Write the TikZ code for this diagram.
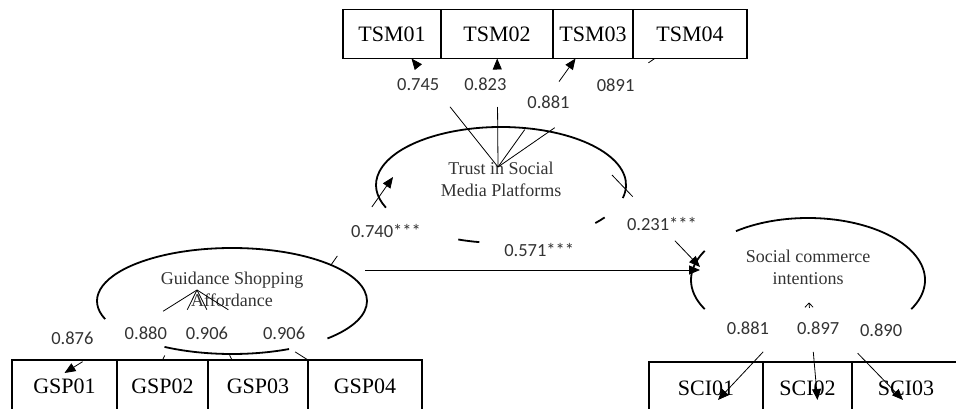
\documentclass[tikz,border=0pt]{standalone}
\usepackage{fontspec}
\setmainfont{Liberation Serif}
\newfontfamily\coeffont{Carlito}
\usetikzlibrary{arrows.meta, positioning, shapes.geometric}

\begin{document}
\begin{tikzpicture}[
  x=1pt, y=-1pt,
  ind/.style={draw, line width=1.6pt, minimum height=50pt, inner sep=0pt, outer sep=0pt, font=\fontsize{22}{26}\selectfont},
  latent/.style={ellipse, inner sep=0pt, outer sep=0pt},
  lvline/.style={line width=1.8pt},
  lvtext/.style={align=center, text=black!80, font=\fontsize{18}{22}\selectfont},
  coef/.style={text=black!80, inner sep=1pt, font=\fontsize{18.5}{22}\selectfont\coeffont},
  load/.style={line width=0.8pt},
  arr/.style={-{Triangle[length=11pt, width=9pt]}}
]
  \clip (0,0) rectangle (956,409);

  % indicators
  \node[ind, minimum width=98pt, minimum height=49pt] (tsm1) at (392,34) {TSM01};
  \node[ind, minimum width=112pt, minimum height=49pt, right=0pt of tsm1] (tsm2) {TSM02};
  \node[ind, minimum width=80pt, minimum height=49pt, right=0pt of tsm2] (tsm3) {TSM03};
  \node[ind, minimum width=114pt, minimum height=49pt, right=0pt of tsm3] (tsm4) {TSM04};

  \node[ind, minimum width=105pt, minimum height=52pt] (gsp1) at (64.5,386) {GSP01};
  \node[ind, minimum width=91pt, minimum height=52pt, right=0pt of gsp1] (gsp2) {GSP02};
  \node[ind, minimum width=100pt, minimum height=52pt, right=0pt of gsp2] (gsp3) {GSP03};
  \node[ind, minimum width=114pt, minimum height=52pt, right=0pt of gsp3] (gsp4) {GSP04};

  \node[ind, minimum width=114pt, minimum height=52pt] (sci1) at (706,388) {SCI01};
  \node[ind, minimum width=89pt, minimum height=52pt, right=0pt of sci1] (sci2) {SCI02};
  \node[ind, minimum width=108pt, minimum height=52pt, right=0pt of sci2] (sci3) {SCI03};

  % latent variables
  \node[latent, minimum width=250pt, minimum height=116pt] (trust) at (501,185) {};
  \node[latent, minimum width=270pt, minimum height=106pt] (guide) at (232,301) {};
  \node[latent, minimum width=234pt, minimum height=124pt] (sci) at (808,280) {};

  \node[lvtext] (trust-lbl) at ([yshift=6pt]trust.center) {Trust in Social\\Media Platforms};
  \node[lvtext] (guide-lbl) at ([yshift=12pt]guide.center) {Guidance Shopping\\Affordance};
  \node[lvtext] (sci-lbl) at ([yshift=13pt]sci.center) {Social commerce\\intentions};

  \draw[lvline] (trust.center) ++(-13:125pt and 58pt) arc[start angle=-13, end angle=203, x radius=125pt, y radius=58pt];
  \draw[lvline] (trust.center) ++(250:125pt and 58pt) arc[start angle=250, end angle=260, x radius=125pt, y radius=58pt];
  \draw[lvline] (trust.center) ++(319:125pt and 58pt) arc[start angle=319, end angle=326, x radius=125pt, y radius=58pt];

  \draw[lvline] (guide.center) ++(-45:135pt and 53pt) arc[start angle=-45, end angle=200, x radius=135pt, y radius=53pt];
  \draw[lvline] (guide.center) ++(240:135pt and 53pt) arc[start angle=240, end angle=295, x radius=135pt, y radius=53pt];

  \draw[lvline] (sci.center) ++(-28:117pt and 62pt) arc[start angle=-28, end angle=128, x radius=117pt, y radius=62pt];
  \draw[lvline] (sci.center) ++(152:117pt and 62pt) arc[start angle=152, end angle=208, x radius=117pt, y radius=62pt];

  % loadings
  \coordinate (tsm-c) at (498,167);
  \coordinate (gsp-c) at (197,290);
  \coordinate (sci-c) at (809,303);

  \draw[load, arr, dash pattern=on 77pt off 200pt] (tsm-c) -- (tsm1) node[coef, pos=0.76, xshift=-14pt] (l-tsm1) {0.745};
  \draw[load, arr, dash pattern=on 60pt off 200pt] (tsm-c) -- (tsm2) node[coef, pos=0.76, xshift=-12pt] (l-tsm2) {0.823};
  \draw[load, arr, dash pattern=on 46pt off 59pt on 100pt] (tsm-c) -- (tsm3) node[coef, pos=0.6, xshift=4pt] (l-tsm3) {0.881};
  \draw[load, dash pattern=on 69pt off 114pt on 20pt] (tsm-c) -- (tsm4) node[coef, pos=0.757, xshift=-1pt] (l-tsm4) {0891};

  \draw[load, arr, dash pattern=on 40pt off 95pt on 200pt] (gsp-c) -- ([yshift=-13pt]gsp1.north) node[coef, pos=0.578, xshift=-48pt] (l-gsp1) {0.876};
  \draw[load, dash pattern=on 22pt off 51pt on 100pt] (gsp-c) -- (gsp2.north) node[coef, pos=0.614, xshift=-30pt] (l-gsp2) {0.880};
  \draw[load, dash pattern=on 22pt off 51pt on 100pt] (gsp-c) -- (gsp3.135) node[coef, pos=0.614, xshift=-11.5pt] (l-gsp3) {0.906};
  \draw[load, dash pattern=on 37pt off 79pt on 100pt] (gsp-c) -- (gsp4.north west) node[coef, pos=0.614, xshift=19pt] (l-gsp4) {0.906};

  \draw[load, arr, dash pattern=on 6pt off 61pt on 200pt] (sci-c) -- ([xshift=12pt,yshift=-12pt]sci1.center) node[coef, pos=0.258, xshift=-37.5pt] (l-sci1) {0.881};
  \draw[load, arr, dash pattern=on 5pt off 44pt on 200pt] (sci-c) -- ([xshift=10pt,yshift=-12pt]sci2.center) node[coef, pos=0.258, xshift=7pt] (l-sci2) {0.897};
  \draw[load, arr, dash pattern=on 6pt off 64pt on 200pt] (sci-c) -- ([xshift=-3pt,yshift=-12pt]sci3.center) node[coef, pos=0.278, xshift=46pt] (l-sci3) {0.890};

  % structural paths
  \draw[load, arr, dash pattern=on 11pt off 60pt on 100pt] (guide.20) -- ([xshift=17pt,yshift=8pt]trust.west) node[coef, pos=0.386, xshift=31pt] (b-gt) {0.740***};
  \draw[load, arr] ([xshift=-2pt,yshift=31pt]guide.east) -- ([xshift=9pt,yshift=10pt]sci.west) node[coef, pos=0.52, yshift=20pt] (b-gs) {0.571***};
  \draw[load, arr, dash pattern=on 30pt off 61pt on 100pt] ([xshift=-14pt,yshift=10pt]trust.east) -- ([xshift=9pt,yshift=13pt]sci.west) node[coef, pos=0.533, xshift=3pt] (b-ts) {0.231***};
\end{tikzpicture}
\end{document}
